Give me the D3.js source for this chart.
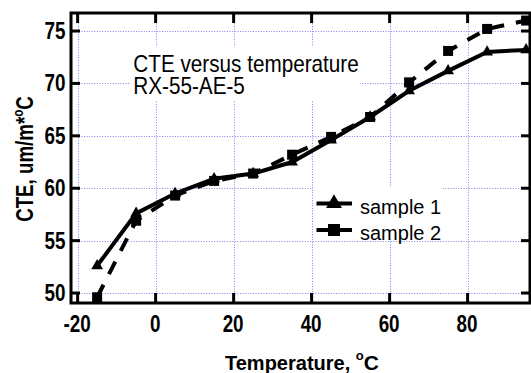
<!DOCTYPE html>
<html><head><meta charset="utf-8">
<script src="https://cdn.jsdelivr.net/npm/d3@7"></script>
<style>body{margin:0;background:#fff}svg{display:block}</style>
</head><body>
<script>
const temps = [-15, -5, 5, 15, 25, 35, 45, 55, 65, 75, 85, 95];
const sample1 = [52.6, 57.6, 59.5, 60.9, 61.4, 62.5, 64.6, 66.8, 69.3, 71.2, 73.0, 73.2];
const sample2 = [49.6, 56.9, 59.3, 60.7, 61.4, 63.2, 64.9, 66.8, 70.1, 73.1, 75.2, 76.0];
const xTicks = [-20, 0, 20, 40, 60, 80];
const yTicks = [50, 55, 60, 65, 70, 75];
const seriesNames = ["sample 1", "sample 2"];
const titleLines = ["CTE versus temperature", "RX-55-AE-5"];

const W = 531, H = 373;
const L = 71, T = 13, R = 530, B = 303;
const svg = d3.select("body").append("svg").attr("width", W).attr("height", H);
const x = d3.scaleLinear().domain([-21.7, 96]).range([L, R]);
const y = d3.scaleLinear().domain([49.05, 76.72]).range([B, T]);

const grid = svg.append("g").attr("stroke", "#7f7ff5").attr("stroke-width", 1).attr("stroke-dasharray", "1,1.6");
grid.selectAll(".gx").data(xTicks).enter().append("line")
  .attr("x1", d => Math.round(x(d)) + 0.5).attr("x2", d => Math.round(x(d)) + 0.5).attr("y1", T).attr("y2", B);
grid.selectAll(".gy").data(yTicks).enter().append("line")
  .attr("y1", d => Math.round(y(d)) + 0.5).attr("y2", d => Math.round(y(d)) + 0.5).attr("x1", L).attr("x2", R);

// white boxes behind annotation and legend
svg.append("rect").attr("x", 131).attr("y", 47).attr("width", 229).attr("height", 54).attr("fill", "#fff");
svg.append("rect").attr("x", 313).attr("y", 186).attr("width", 130).attr("height", 53).attr("fill", "#fff");

// annotation
titleLines.forEach((t, i) => {
  svg.append("text").attr("transform", `translate(133.3,${71.5 + i * 22.5}) scale(0.9,1)`)
    .attr("font-family", "Liberation Sans, Arial, sans-serif").attr("font-size", 23).attr("fill", "#000").text(t);
});

// lines
const line = d3.line().x((d, i) => x(temps[i])).y(d => y(d));
svg.append("path").datum(sample1).attr("d", line).attr("fill", "none").attr("stroke", "#000").attr("stroke-width", 4);
svg.append("path").datum(sample2).attr("d", line).attr("fill", "none").attr("stroke", "#000").attr("stroke-width", 4)
  .attr("stroke-dasharray", "14,12");

const tri = d3.symbol().type(d3.symbolTriangle).size(60);
svg.selectAll(".m1").data(sample1).enter().append("path")
  .attr("d", tri).attr("transform", (d, i) => `translate(${x(temps[i])},${y(d)})`).attr("fill", "#000");
svg.selectAll(".m2").data(sample2).enter().append("rect")
  .attr("x", (d, i) => x(temps[i]) - 5).attr("y", d => y(d) - 5).attr("width", 10).attr("height", 10).attr("fill", "#000");

// legend
const lg = svg.append("g");
seriesNames.forEach((n, i) => {
  const ly = 203.5 + i * 26.5;
  lg.append("line").attr("x1", 316.5).attr("x2", 352).attr("y1", ly).attr("y2", ly).attr("stroke", "#000").attr("stroke-width", 4);
  if (i === 0) {
    lg.append("path").attr("d", d3.symbol().type(d3.symbolTriangle).size(110)).attr("transform", `translate(334,${ly})`).attr("fill", "#000");
  } else {
    lg.append("rect").attr("x", 328).attr("y", ly - 6).attr("width", 12).attr("height", 12).attr("fill", "#000");
  }
  lg.append("text").attr("x", 360).attr("y", ly + 10).attr("font-family", "Liberation Sans, Arial, sans-serif")
    .attr("font-size", 20).attr("fill", "#000").text(n);
});

// frame
svg.append("rect").attr("x", L).attr("y", T).attr("width", R - L).attr("height", B - T)
  .attr("fill", "none").attr("stroke", "#000").attr("stroke-width", 3);
const tk = svg.append("g").attr("stroke", "#000").attr("stroke-width", 3);
xTicks.forEach(d => {
  tk.append("line").attr("x1", x(d)).attr("x2", x(d)).attr("y1", B).attr("y2", B - 10);
  tk.append("line").attr("x1", x(d)).attr("x2", x(d)).attr("y1", T).attr("y2", T + 10);
});
yTicks.forEach(d => {
  tk.append("line").attr("y1", y(d)).attr("y2", y(d)).attr("x1", L).attr("x2", L + 9);
  tk.append("line").attr("y1", y(d)).attr("y2", y(d)).attr("x1", R).attr("x2", R - 9);
});

// tick labels
const fb = "Liberation Sans, Arial, sans-serif";
xTicks.forEach(d => {
  svg.append("text").attr("transform", `translate(${x(d) - 0.5},331.5) scale(0.82,1)`)
    .attr("text-anchor", "middle").attr("font-family", fb).attr("font-weight", "bold").attr("font-size", 23).text(d);
});
yTicks.forEach(d => {
  svg.append("text").attr("transform", `translate(65.5,${y(d) + 8}) scale(0.82,1)`)
    .attr("text-anchor", "end").attr("font-family", fb).attr("font-weight", "bold").attr("font-size", 23).text(d);
});

// axis titles
const xt = svg.append("text").attr("x", 225).attr("y", 369.5).attr("font-family", fb).attr("font-weight", "bold").attr("font-size", 20);
xt.append("tspan").text("Temperature, ");
xt.append("tspan").attr("font-size", 13).attr("dy", -10).text("o");
xt.append("tspan").attr("dy", 10).attr("font-size", 21).text("C");

const yt = svg.append("text").attr("transform", "translate(32.5,159) rotate(-90) scale(0.78,1)")
  .attr("text-anchor", "middle").attr("font-family", fb).attr("font-weight", "bold").attr("font-size", 24);
yt.append("tspan").text("CTE, um/m*");
yt.append("tspan").attr("font-size", 15).attr("dy", -10).text("o");
yt.append("tspan").attr("dy", 10).text("C");
</script>
</body></html>
